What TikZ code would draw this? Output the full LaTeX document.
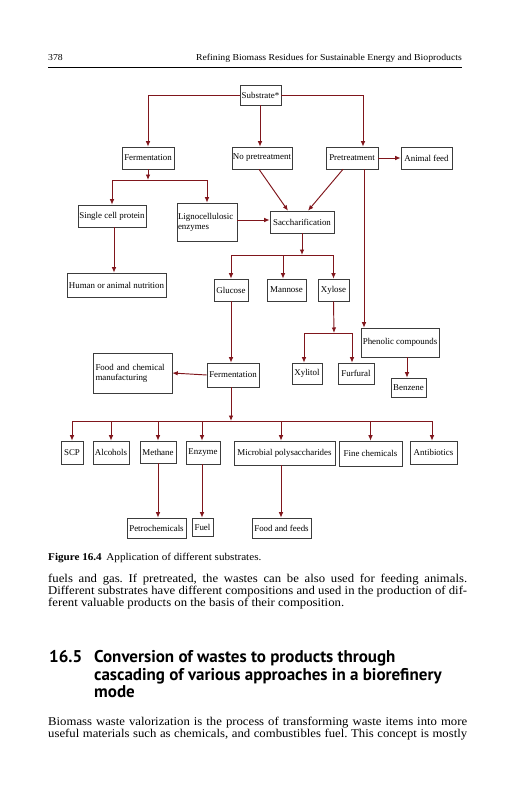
\documentclass[tikz,border=0pt]{standalone}
\usepackage{fontspec}
\setmainfont{Liberation Serif}
\newfontfamily\bodyfont[FakeStretch=1.07]{Liberation Serif}
\newfontfamily\headfont{PT Sans}
\usetikzlibrary{arrows.meta}
\definecolor{arrowred}{RGB}{128,22,28}
\definecolor{boxgray}{RGB}{60,60,60}
\frenchspacing
\tikzset{
  box/.style={draw=boxgray, line width=0.55pt, inner sep=0.5pt, font=\fontsize{8.9}{10}\selectfont, align=center},
  lbox/.style={box, align=left},
  conn/.style={draw=arrowred, line width=0.95pt},
  arr/.style={conn, -{Latex[length=5.5pt,width=4.5pt]}},
  txt/.style={inner sep=0pt, anchor=base west},
}
\newcommand\bx[7][box]{\node[#1, minimum width=#5pt, minimum height=#6pt] (#2) at (#3,#4) {#7};}
\begin{document}
\begin{tikzpicture}[x=1pt,y=-1pt]
\useasboundingbox (0,0) rectangle (531,800);
% header
\node[txt, font=\bodyfont\fontsize{9.1}{10}\selectfont] (pg) at (48,61) {378};
\node[inner sep=0pt, anchor=base east, font=\bodyfont\fontsize{9.1}{10}\selectfont] (rh) at (462,61) {Refining Biomass Residues for Sustainable Energy and Bioproducts};
\draw[line width=0.6pt] (48,67) -- (462,67);
% boxes
\bx{sub}{260.5}{95}{41}{20}{Substrate*}
\bx{ferm1}{148}{158}{52}{22}{Fermentation}
\bx{nopre}{262}{158}{60}{22}{No pretreatment}
\bx{pre}{352}{158}{52}{22}{Pretreatment}
\bx{feed}{426.5}{158}{51}{22}{Animal feed}
\bx{scp1}{112}{216}{68}{22}{Single cell protein}
\bx[lbox, text width=58pt]{ligno}{207}{222}{60}{38}{Lignocellulosic\\enzymes}
\bx{sacch}{302}{222}{64}{22}{Saccharification}
\bx{human}{116.5}{285}{99}{24}{Human or animal nutrition}
\bx{glucose}{231}{290}{34}{22}{Glucose}
\bx{mannose}{286.5}{290}{39}{22}{Mannose}
\bx{xylose}{333.5}{290}{31}{22}{Xylose}
\bx{phen}{400}{342.5}{78}{29}{Phenolic compounds}
\bx{xylitol}{307}{373.5}{30}{21}{Xylitol}
\bx{furf}{356}{373.5}{36}{21}{Furfural}
\bx{benz}{408.5}{387.5}{35}{19}{Benzene}
\bx{ferm2}{233}{375}{52}{24}{Fermentation}
\bx[lbox, text width=74pt]{foodchem}{132.5}{373}{79}{40}{Food and chemical\\manufacturing}
\bx{scp}{72}{452.5}{22}{23}{SCP}
\bx{alc}{111}{452.5}{36}{23}{Alcohols}
\bx{meth}{158}{452}{36}{22}{Methane}
\bx{enz}{203}{452.5}{34}{23}{Enzyme}
\bx{micro}{284.5}{453}{101}{24}{Microbial polysaccharides}
\bx{fine}{370.5}{453.5}{63}{25}{Fine chemicals}
\bx{anti}{433.5}{452.5}{47}{23}{Antibiotics}
\bx{petro}{156.5}{528}{59}{20}{Petrochemicals}
\bx{fuel}{202.5}{527}{21}{18}{Fuel}
\bx{ff}{281.5}{528}{59}{20}{Food and feeds}
% junction points
\coordinate (b1) at (148,180);
\coordinate (b2) at (302,255);
\coordinate (b3) at (334,333);
\coordinate (b4) at (231,421);
% connectors
\draw[arr] (sub.west) -| (ferm1.north);
\draw[arr] ([xshift=-0.5pt]sub.south) -- ([xshift=-0.5pt]sub.south |- nopre.north);
\draw[arr] (sub.east) -| ([xshift=11pt]pre.north);
\draw[arr] (pre.east) -- (feed.west);
\draw[arr] (ferm1.south) -- (b1);
\draw[arr] (b1) -| (scp1.north);
\draw[arr] (b1) -| (ligno.north);
\draw[arr] ([xshift=2pt]scp1.south) -- ([xshift=2pt]scp1.south |- human.north);
\draw[arr] ([yshift=2pt]ligno.east) -- ([yshift=2pt]sacch.west);
\draw[arr] ([xshift=-3pt]nopre.south) -- ([xshift=-14pt]sacch.north);
\draw[arr] ([xshift=-9pt]pre.south) -- ([xshift=6pt]sacch.north);
\draw[arr] (sacch.south) -- (b2);
\draw[arr] (b2) -| (glucose.north);
\draw[arr] (b2) -| ([xshift=-3.5pt]mannose.north);
\draw[arr] (b2) -| (xylose.north);
\draw[arr] ([xshift=12pt]pre.south) -- ([xshift=12pt]pre.south |- phen.north);
\draw[arr] (xylose.south) -- (b3);
\draw[arr] (b3) -| ([xshift=-3pt]xylitol.north);
\draw[arr] (b3) -| ([xshift=-4pt]furf.north);
\draw[arr] ([xshift=7pt]phen.south) -- ([xshift=7pt]phen.south |- benz.north);
\draw[arr] (glucose.south) -- (glucose.south |- ferm2.north);
\draw[arr] (ferm2.west) -- (foodchem.east);
\draw[arr] ([xshift=-2pt]ferm2.south) -- (b4);
\draw[arr] (b4) -| (scp.north);
\draw[arr] (b4) -| (alc.north);
\draw[arr] (b4) -| (meth.north);
\draw[arr] (b4) -| ([xshift=-1pt]enz.north);
\draw[arr] (b4) -| ([xshift=-3.5pt]micro.north);
\draw[arr] (b4) -| (fine.north);
\draw[arr] (b4) -| ([xshift=-1.5pt]anti.north);
\draw[arr] (meth.south) -- (meth.south |- petro.north);
\draw[arr] ([xshift=-1pt]enz.south) -- ([xshift=-1pt]enz.south |- fuel.north);
\draw[arr] ([xshift=-3.5pt]micro.south) -- ([xshift=-3.5pt]micro.south |- ff.north);
% caption
\node[txt, font=\bodyfont\fontsize{10.4}{12}\selectfont] (cap) at (48,560.5) {\textbf{Figure 16.4}\hspace{0.45em}Application of different substrates.};
% body
\begin{scope}[every node/.style={txt, font=\bodyfont\fontsize{11.9}{12}\selectfont}]
\node (l1) at (48,582.5) {\makebox[419pt][s]{fuels and gas. If pretreated, the wastes can be also used for feeding animals.}};
\node (l2) at (48,594.5) {\makebox[419pt][s]{Different substrates have different compositions and used in the production of dif-}};
\node (l3) at (48,606.5) {ferent valuable products on the basis of their composition.};
\end{scope}
\begin{scope}[every node/.style={txt, font=\headfont\bfseries\fontsize{17}{18}\selectfont}]
\node (hn) at (49,662.3) {16.5};
\node (h1) at (94,662.3) {Conversion of wastes to products through};
\node (h2) at (94,680) {cascading of various approaches in a biorefinery};
\node (h3) at (94,697.5) {mode};
\end{scope}
\begin{scope}[every node/.style={txt, font=\bodyfont\fontsize{11.9}{12}\selectfont}]
\node (p1) at (48,725.5) {\makebox[419pt][s]{Biomass waste valorization is the process of transforming waste items into more}};
\node (p2) at (48,737.5) {\makebox[419pt][s]{useful materials such as chemicals, and combustibles fuel. This concept is mostly}};
\end{scope}
\end{tikzpicture}
\end{document}
